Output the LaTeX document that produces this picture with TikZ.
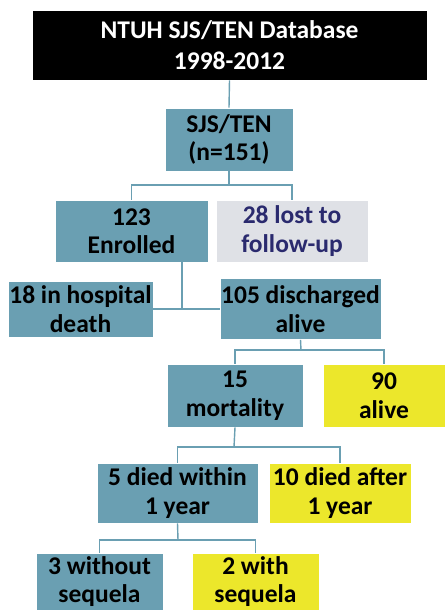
\documentclass[tikz,border=0pt]{standalone}
\usepackage{fontspec}
\setmainfont{Carlito}
\usetikzlibrary{calc}
\definecolor{boxteal}{HTML}{6A9FB2}
\definecolor{boxgray}{HTML}{DFE1E6}
\definecolor{boxyellow}{HTML}{ECE72B}
\definecolor{lostnavy}{HTML}{2A2A6E}
\tikzset{
  flowbox/.style={fill=boxteal, draw=white, line width=0.6pt, inner sep=0pt, align=center,
    font=\fontsize{25.5}{28.5}\selectfont\bfseries},
  lostbox/.style={flowbox, fill=boxgray, text=lostnavy},
  alivebox/.style={flowbox, fill=boxyellow},
  link/.style={draw=boxteal, line width=1.4pt}
}

\begin{document}
\begin{tikzpicture}[x=1pt, y=-1pt]
			%%%%% START %%%%%
			\useasboundingbox[fill=white] (0, 0) rectangle (445, 610);
			
			\node[flowbox, fill=black, text=white, minimum width=395, minimum height=70,
			  font=\fontsize{25.5}{31}\selectfont\bfseries] (db) at (229.5, 45) {NTUH SJS/TEN Database\\1998-2012};
			\node[flowbox, minimum width=128, minimum height=63] (sjs) at (229, 139.5) {SJS/TEN\\(n=151)};
			
			\node[flowbox, minimum width=153, minimum height=62] (enrolled) at (131.5, 231) {123\\Enrolled};
			\node[lostbox, minimum width=152, minimum height=62] (lost) at (292, 231) {28 lost to\\follow-up};
			
			\node[flowbox, minimum width=145, minimum height=56] (death) at (80.5, 309) {18 in hospital\\death};
			\node[flowbox, minimum width=161, minimum height=61] (discharged) at (300.5, 309) {105 discharged\\alive};
			
			\node[flowbox, minimum width=136, minimum height=63] (mortality) at (235, 395.5) {15\\mortality};
			\node[alivebox, minimum width=122, minimum height=63] (alive) at (384, 395.5) {90\\alive};
			
			\node[flowbox, minimum width=161, minimum height=60] (within) at (177.5, 493) {5 died within\\1 year};
			\node[alivebox, minimum width=142, minimum height=60] (after) at (340, 493) {10 died after\\1 year};
			
			\node[flowbox, minimum width=127, minimum height=57] (nosequela) at (99.5, 581.5) {3 without\\sequela};
			\node[alivebox, minimum width=127, minimum height=57] (sequela) at (255.5, 581.5) {2 with\\sequela};
			
			% joints
			\coordinate (j1) at (229, 185);
			\coordinate (j2) at (182, 309);
			\coordinate (j3) at (301, 350);
			\coordinate (j4) at (234, 447);
			\coordinate (j5) at (178, 540);
			
			\draw[link] (db.south) -- (sjs.north);
			\draw[link] (sjs.south) -- (j1);
			\draw[link] (enrolled.north) |- (j1) -| (lost.north);
			\draw[link] (j2 |- enrolled.south) -- (j2);
			\draw[link] (death.east) -- (discharged.west);
			\draw[link] (discharged.south) -- (j3);
			\draw[link] (mortality.north) |- (j3) -| (alive.north);
			\draw[link] (mortality.south) -- (j4);
			\draw[link] (within.north) |- (j4) -| (after.north);
			\draw[link] (within.south) -- (j5);
			\draw[link] (nosequela.north) |- (j5) -| (sequela.north);
			%%%%% END %%%%%
\end{tikzpicture}
\end{document}
